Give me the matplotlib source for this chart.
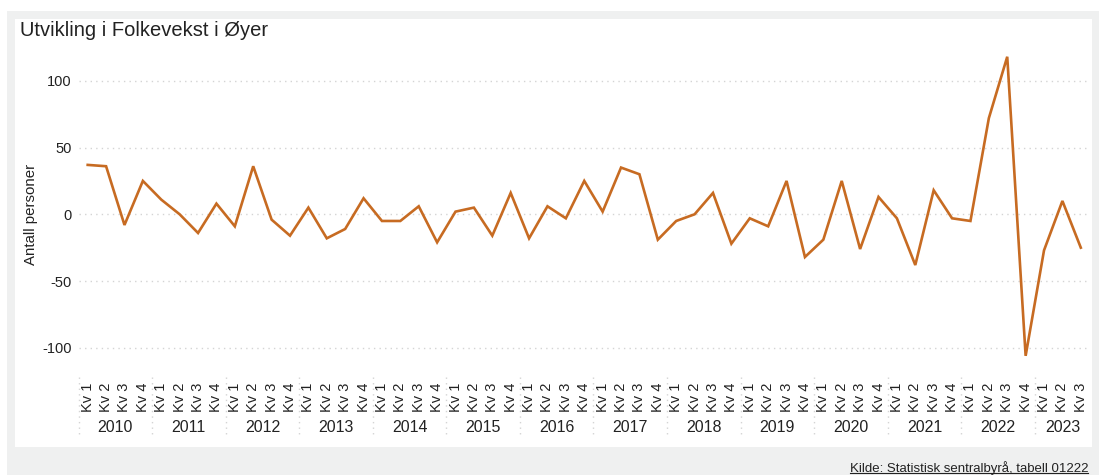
import matplotlib
matplotlib.use("Agg")
import matplotlib.pyplot as plt
from matplotlib.lines import Line2D
from matplotlib.patches import Rectangle
import matplotlib.transforms as mtransforms

plt.rcParams['font.family'] = ['Liberation Sans', 'DejaVu Sans']

title = "Utvikling i Folkevekst i Øyer"
ylabel = "Antall personer"
source = "Kilde: Statistisk sentralbyrå, tabell 01222"
years = [str(y) for y in range(2010, 2024)]
quarters = ["Kv 1", "Kv 2", "Kv 3", "Kv 4"]
values = [37, 36, -8, 25, 11, 0, -14, 8, -9, 36,
          -4, -16, 5, -18, -11, 12, -5, -5, 6, -21,
          2, 5, -16, 16, -18, 6, -3, 25, 2, 35,
          30, -19, -5, 0, 16, -22, -3, -9, 25, -32,
          -19, 25, -26, 13, -3, -38, 18, -3, -5, 72,
          118, -106, -27, 10, -25]
yticks = [-100, -50, 0, 50, 100]

labels = [q for y in years for q in quarters][:len(values)]
x = list(range(len(values)))

W, H = 1099, 475
fig = plt.figure(figsize=(W / 100, H / 100), dpi=100)
fig.patch.set_facecolor("white")

def fx(px):
    return px / W

def fy(py):
    return (H - py) / H

# background frame
fig.add_artist(Rectangle((fx(7), 0), 1 - fx(7), fy(11), transform=fig.transFigure,
                         facecolor="#eff0f0", edgecolor="none", zorder=-10))
fig.add_artist(Rectangle((fx(15), fy(447)), fx(1092) - fx(15), fy(19) - fy(447),
                         transform=fig.transFigure, facecolor="white",
                         edgecolor="none", zorder=-9))

ax_left, ax_right = 78.5, 1090.0
ax_top, ax_bottom = 47.4, 381.2
ax = fig.add_axes([fx(ax_left), fy(ax_bottom), fx(ax_right) - fx(ax_left),
                   fy(ax_top) - fy(ax_bottom)])
ax.set_facecolor("none")

ax.plot(x, values, color="#c76b22", linewidth=1.9, solid_joinstyle="miter", zorder=3)

ax.set_xlim(-0.5, len(values) - 0.5)
ax.set_ylim(-125, 125)
ax.set_yticks(yticks)
ax.set_yticklabels([str(v) for v in yticks], fontsize=10.5, color="#222222")
ax.set_xticks(x)
ax.set_xticklabels(labels, rotation=90, fontsize=10.5, color="#222222")
ax.tick_params(axis="both", length=0)
ax.tick_params(axis="x", pad=1)
ax.tick_params(axis="y", pad=5)
for s in ax.spines.values():
    s.set_visible(False)
ax.grid(axis="y", color="#d4d4d4", linestyle=(0, (1, 3)), linewidth=1.0)
ax.grid(axis="x", visible=False)

ax.set_ylabel(ylabel, fontsize=10.8, color="#222222", labelpad=3)

# year labels and separators
blend = mtransforms.blended_transform_factory(ax.transData, fig.transFigure)
for k, yr in enumerate(years):
    start = 4 * k
    end = min(4 * k + 3, len(values) - 1)
    fig.text((start + end) / 2, fy(427), yr, transform=blend, ha="center",
             va="center", fontsize=11.5, color="#222222")
    fig.add_artist(Line2D([start - 0.5, start - 0.5], [fy(377), fy(437)],
                          transform=blend, color="#d4d4d4",
                          linestyle=(0, (1, 3)), linewidth=1.0))

fig.text(fx(20), fy(30), title, fontsize=14.5, color="#222222", ha="left", va="center")

src = fig.text(fx(1088), fy(468), source, fontsize=9.5, color="#222222",
               ha="right", va="center")
fig.canvas.draw()
bb = src.get_window_extent()
inv = fig.transFigure.inverted()
(x0, y0), (x1, y1) = inv.transform([(bb.x0, bb.y0), (bb.x1, bb.y0)])
fig.add_artist(Line2D([x0, x1], [y0 + 1.5 / H, y0 + 1.5 / H], transform=fig.transFigure,
                      color="#222222", linewidth=0.8))

fig.savefig("out.png", dpi=100)
